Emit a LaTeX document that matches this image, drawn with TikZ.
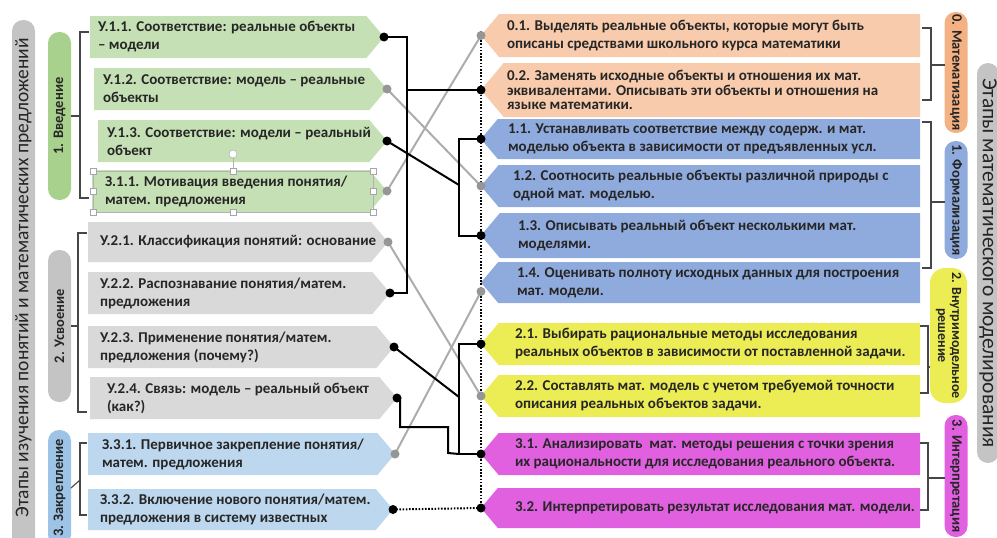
\documentclass[tikz,border=0pt]{standalone}
\usepackage{fontspec}
\setmainfont{Carlito}
\usetikzlibrary{shapes.symbols,calc}

\definecolor{grnbox}{RGB}{197,224,180}
\definecolor{grnbar}{RGB}{169,209,142}
\definecolor{grybox}{RGB}{217,217,217}
\definecolor{grybar}{RGB}{196,196,196}
\definecolor{blubox}{RGB}{189,215,238}
\definecolor{blubar}{RGB}{157,195,230}
\definecolor{pchbox}{RGB}{248,203,173}
\definecolor{pchbar}{RGB}{244,177,131}
\definecolor{frmbox}{RGB}{143,170,220}
\definecolor{ylwbox}{RGB}{236,236,84}
\definecolor{mgnbox}{RGB}{224,96,224}
\definecolor{txt}{RGB}{38,38,38}
\definecolor{lnk}{RGB}{172,172,172}
\definecolor{gdot}{RGB}{150,150,150}
\definecolor{brk}{RGB}{70,70,70}

\begin{document}
\begin{tikzpicture}[x=1pt,y=-1pt,
  every node/.style={font=\fontsize{15}{18}\selectfont\bfseries,text=txt,inner sep=0pt,outer sep=0pt},
  lbox/.style={signal,signal to=east,signal pointer angle=100,anchor=west},
  rbox/.style={signal,signal to=west,signal pointer angle=100,anchor=east,minimum width=439pt},
  btxt/.style={anchor=west,align=left},
  bar/.style={rounded corners=11pt,minimum height=23pt,font=\fontsize{14.5}{16}\selectfont\bfseries},
  brk/.style={draw=brk,line width=1.1pt},
  blink/.style={line width=2pt},
  glink/.style={draw=lnk,line width=2pt},
  dlink/.style={line width=2pt,dash pattern=on 1.6pt off 1.6pt},
]
\useasboundingbox (0,0) rectangle (997,538);

% left stages
\node[bar,fill=grybar,rotate=90,minimum width=540pt] (lbar) at (23.5,290) {};
\node[rotate=90,font=\fontsize{19.5}{22}\selectfont] (ltitle) at (23.5,278) {Этапы изучения понятий и математических предложений};
\node[bar,fill=grnbar,rotate=90,minimum width=168pt] (vb1) at (59.5,116) {1. Введение};
\node[bar,fill=grybar,rotate=90,minimum width=152pt] (vb2) at (59.5,326) {2. Усвоение};
\node[bar,fill=blubar,rotate=90,minimum width=116pt] (vb3) at (59.5,488) {3. Закрепление};

% left boxes
\node[lbox,fill=grnbox,minimum width=294pt,minimum height=42pt] (u11) at (90,37) {};
\node[btxt] (tu11) at ([xshift=8pt]u11.west) {У.1.1. Соответствие: реальные объекты\\– модели};
\node[lbox,fill=grnbox,minimum width=293pt,minimum height=42pt] (u12) at (94,89) {};
\node[btxt] (tu12) at ([xshift=9pt]u12.west) {У.1.2. Соответствие: модель – реальные\\объекты};
\node[lbox,fill=grnbox,minimum width=289pt,minimum height=42pt] (u13) at (98,141) {};
\node[btxt] (tu13) at ([xshift=9pt]u13.west) {У.1.3. Соответствие: модели – реальный\\объект};
\node[lbox,fill=grnbox,minimum width=295pt,minimum height=42pt] (z11) at (92,191) {};
\node[btxt] (tz11) at ([xshift=13pt]z11.west) {З.1.1. Мотивация введения понятия/\\матем. предложения};
\node[lbox,fill=grybox,minimum width=300pt,minimum height=40pt] (u21) at (88,242) {};
\node[btxt] (tu21) at ([xshift=12pt]u21.west) {У.2.1. Классификация понятий: основание};
\node[lbox,fill=grybox,minimum width=302pt,minimum height=42pt] (u22) at (88,293) {};
\node[btxt] (tu22) at ([xshift=12pt]u22.west) {У.2.2. Распознавание понятия/матем.\\предложения};
\node[lbox,fill=grybox,minimum width=306pt,minimum height=42pt] (u23) at (88,347) {};
\node[btxt] (tu23) at ([xshift=12pt]u23.west) {У.2.3. Применение понятия/матем.\\предложения (почему?)};
\node[lbox,fill=grybox,minimum width=307pt,minimum height=42pt] (u24) at (90,398) {};
\node[btxt] (tu24) at ([xshift=17pt]u24.west) {У.2.4. Связь: модель – реальный объект\\(как?)};
\node[lbox,fill=blubox,minimum width=307pt,minimum height=42pt] (z31) at (88,454) {};
\node[btxt] (tz31) at ([xshift=14pt]z31.west) {З.3.1. Первичное закрепление понятия/\\матем. предложения};
\node[lbox,fill=blubox,minimum width=305pt,minimum height=41pt] (z32) at (88,509.5) {};
\node[btxt] (tz32) at ([xshift=12pt]z32.west) {З.3.2. Включение нового понятия/матем.\\предложения в систему известных};

% selection frame
\draw[gray!60] (93,171) rectangle (373,212) (233,171) -- (233,158);
\draw[gray!70,fill=white] (233,154) circle (4);
\foreach \hx in {93,233,373}
  \foreach \hy in {171,212}
    \draw[gray!70,fill=white] (\hx-3,\hy-3) rectangle ++(6,6);
\foreach \hx in {93,373}
  \draw[gray!70,fill=white] (\hx-3,188.5) rectangle ++(6,6);

% left brackets
\draw[brk] (89,32) -| (80,198) -- (89,198);
\draw[brk] (vb1.south) -- (80,116);
\draw[brk] (87,233) -| (78,412) -- (87,412);
\draw[brk] (vb2.south) -- (78,326);
\draw[brk] (87,443) -| (80,515) -- (87,515);
\draw[brk] (vb3.south) -- (80,480);

% right boxes
\node[rbox,fill=pchbox,minimum height=43pt] (m01) at (920,35.5) {};
\node[btxt] (tm01) at ([xshift=26pt]m01.west) {0.1. Выделять реальные объекты, которые могут быть\\описаны средствами школьного курса математики};
\node[rbox,fill=pchbox,minimum height=54pt] (m02) at (920,90) {};
\node[btxt,font=\fontsize{15}{14.5}\selectfont\bfseries] (tm02) at ([xshift=26pt]m02.west) {0.2. Заменять исходные объекты и отношения их мат.\\эквивалентами. Описывать эти объекты и отношения на\\языке математики.};
\node[rbox,fill=frmbox,minimum height=40pt] (m11) at (920,139) {};
\node[btxt] (tm11) at ([xshift=27pt]m11.west) {1.1. Устанавливать соответствие между содерж. и мат.\\моделью объекта в зависимости от предъявленных усл.};
\node[rbox,fill=frmbox,minimum height=42pt] (m12) at (920,186) {};
\node[btxt] (tm12) at ([xshift=32pt]m12.west) {1.2. Соотносить реальные объекты различной природы с\\одной мат. моделью.};
\node[rbox,fill=frmbox,minimum height=45pt] (m13) at (920,235.5) {};
\node[btxt] (tm13) at ([xshift=37pt]m13.west) {1.3. Описывать реальный объект несколькими мат.\\моделями.};
\node[rbox,fill=frmbox,minimum height=41pt] (m14) at (920,282.5) {};
\node[btxt] (tm14) at ([xshift=36pt]m14.west) {1.4. Оценивать полноту исходных данных для построения\\мат. модели.};
\node[rbox,fill=ylwbox,minimum height=42pt] (m21) at (920,344) {};
\node[btxt] (tm21) at ([xshift=34pt]m21.west) {2.1. Выбирать рациональные методы исследования\\реальных объектов в зависимости от поставленной задачи.};
\node[rbox,fill=ylwbox,minimum height=42pt] (m22) at (920,396) {};
\node[btxt] (tm22) at ([xshift=34pt]m22.west) {2.2. Составлять мат. модель с учетом требуемой точности\\описания реальных объектов задачи.};
\node[rbox,fill=mgnbox,minimum height=42pt] (m31) at (920,454) {};
\node[btxt] (tm31) at ([xshift=34pt]m31.west) {3.1. Анализировать \ мат. методы решения с точки зрения\\их рациональности для исследования реального объекта.};
\node[rbox,fill=mgnbox,minimum height=40pt] (m32) at (920,508) {};
\node[btxt] (tm32) at ([xshift=34pt]m32.west) {3.2. Интерпретировать результат исследования мат. модели.};

% right stages
\node[bar,fill=pchbar,rotate=-90,minimum width=121pt] (vr0) at (956,72.5) {0. Математизация};
\node[bar,fill=frmbox,rotate=-90,minimum width=118pt] (vr1) at (956,200) {1. Формализация};
\node[bar,fill=ylwbox,rotate=-90,minimum width=135pt,minimum height=37pt,rounded corners=15pt,align=center,font=\fontsize{14}{14}\selectfont\bfseries] (vr2) at (948.5,335.5) {2. Внутримодельное\\решение};
\node[bar,fill=mgnbox,rotate=-90,minimum width=122pt] (vr3) at (956,476) {3. Интерпретация};
\node[bar,fill=grybar,rotate=-90,minimum width=400pt,minimum height=22pt,font=\fontsize{21.5}{24}\selectfont] (rtitle) at (988,263) {Этапы математического моделирования};

% right brackets
\draw[brk] (922,28) -| (931,100) -- (922,100);
\draw[brk] (931,65) -- (945,65);
\draw[brk] (922,122) -| (931,268) -- (922,268);
\draw[brk] (931,202) -- (945,202);
\draw[brk] (920,326) -| (928,393) -- (920,393);
\draw[brk] (928,367) -- (930,367);
\draw[brk] (920,443) -| (928,510) -- (920,510);
\draw[brk] (928,478) -- (945,478);

% links
\coordinate (ka) at (407,0);
\coordinate (kb) at (459,185);
\coordinate (kc) at (459,397);
\coordinate (kd) at (400,427);
\coordinate (ke) at (448,453);
\coordinate (m14p) at ($(m14.west)+(0,9)$);
\draw[dlink] ([yshift=5pt]m01.west) -- (m32.west);
\draw[dlink] (z32.east) -- (m32.west);
\draw[glink] (u12.east) -- (m12.west);
\draw[glink] (z11.east) -- (m01.west);
\draw[glink] (u21.east) -- (m22.west);
\draw[glink] (z31.east) -- (m14p);
\draw[blink] (u11.east) -| (ka |- u22.east) -- (u22.east);
\draw[blink] (ka |- m02.west) -- (m02.west);
\draw[blink] (u13.east) -- (kb);
\draw[blink] (m11.west) -| (kb) |- (m13.west);
\draw[blink] (u23.east) -- (kc);
\draw[blink] (m21.west) -| (kc) |- (m31.west);
\draw[blink] (u24.east) -| (kd) -| (ke) -- (kc |- m31.west);
\foreach \d in {u11.east,u13.east,u22.east,u23.east,u24.east,z32.east,m02.west,m11.west,m13.west,m21.west,m31.west,m32.west}
  \fill (\d) circle (4.5);
\foreach \d in {u12.east,z11.east,u21.east,z31.east,m01.west,m12.west,m22.west,m14p}
  \fill[gdot] (\d) circle (4.5);
\end{tikzpicture}
\end{document}
